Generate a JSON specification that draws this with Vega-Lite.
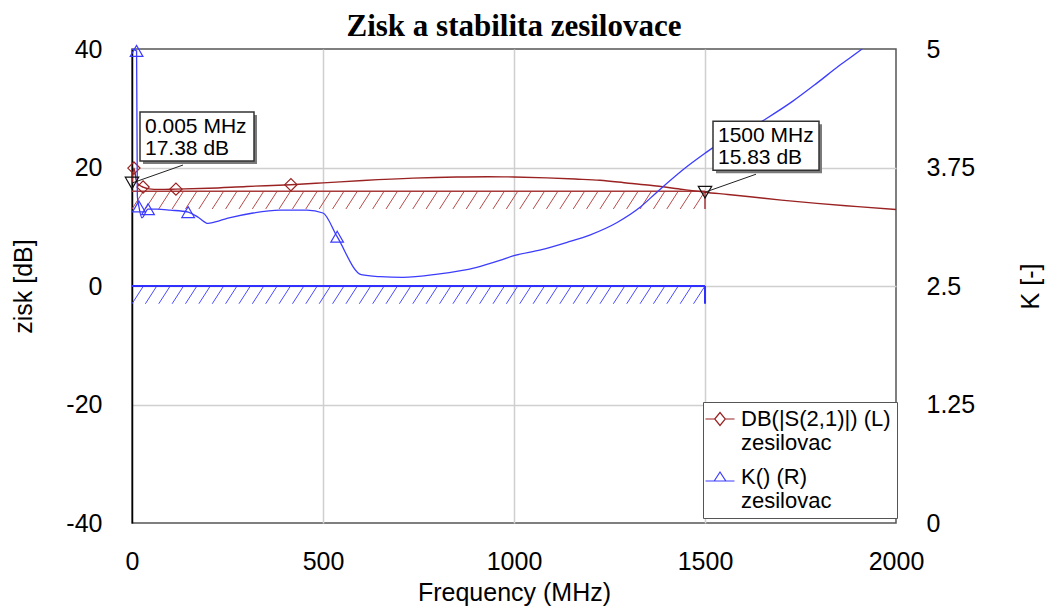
{
  "$schema": "https://vega.github.io/schema/vega-lite/v6.json",
  "width": 764,
  "height": 474,
  "autosize": {"type": "none"},
  "padding": {"left": 132, "top": 49, "right": 154, "bottom": 85},
  "background": "white",
  "config": {
    "font": "Liberation Sans",
    "view": {"stroke": "#555555", "strokeWidth": 1.5},
    "axis": {
      "labelFont": "Liberation Sans",
      "labelFontSize": 25,
      "labelColor": "black",
      "titleFont": "Liberation Sans",
      "titleFontSize": 25,
      "titleFontWeight": "normal",
      "titleColor": "black",
      "ticks": false,
      "domain": false,
      "gridColor": "#cfcfcf",
      "gridWidth": 1.5
    }
  },
  "title": {
    "text": "Zisk a stabilita zesilovace",
    "font": "Liberation Serif",
    "fontSize": 31,
    "fontWeight": "bold",
    "color": "black",
    "anchor": "middle",
    "frame": "group",
    "offset": 6,
    "dy": 12
  },
  "datasets": {
    "s21": [
      {"f": 0.005, "db": 17.38},
      {"f": 5, "db": 19.9},
      {"f": 12, "db": 17.6},
      {"f": 20, "db": 17.0},
      {"f": 29, "db": 16.7},
      {"f": 45, "db": 16.4},
      {"f": 70, "db": 16.3},
      {"f": 115, "db": 16.35},
      {"f": 200, "db": 16.5},
      {"f": 300, "db": 16.8},
      {"f": 416, "db": 17.1},
      {"f": 500, "db": 17.4},
      {"f": 605, "db": 17.8},
      {"f": 736, "db": 18.2},
      {"f": 850, "db": 18.4},
      {"f": 930, "db": 18.45},
      {"f": 1000, "db": 18.4},
      {"f": 1086, "db": 18.25},
      {"f": 1160, "db": 18.05},
      {"f": 1225, "db": 17.85},
      {"f": 1300, "db": 17.35},
      {"f": 1356, "db": 17.0},
      {"f": 1442, "db": 16.3},
      {"f": 1500, "db": 15.83},
      {"f": 1560, "db": 15.45},
      {"f": 1618, "db": 15.07},
      {"f": 1700, "db": 14.5},
      {"f": 1793, "db": 13.95},
      {"f": 1900, "db": 13.4},
      {"f": 2000, "db": 12.9}
    ],
    "kf": [
      {"f": 0.005, "k": 5.0},
      {"f": 12, "k": 4.98},
      {"f": 14, "k": 3.45},
      {"f": 18, "k": 3.34},
      {"f": 26, "k": 3.22},
      {"f": 42, "k": 3.31},
      {"f": 65, "k": 3.31},
      {"f": 100, "k": 3.3},
      {"f": 147, "k": 3.28},
      {"f": 175, "k": 3.22},
      {"f": 199, "k": 3.16},
      {"f": 230, "k": 3.19},
      {"f": 257, "k": 3.22},
      {"f": 317, "k": 3.27},
      {"f": 387, "k": 3.3},
      {"f": 458, "k": 3.3},
      {"f": 500, "k": 3.27},
      {"f": 537, "k": 3.02},
      {"f": 600, "k": 2.62},
      {"f": 650, "k": 2.598},
      {"f": 709, "k": 2.59},
      {"f": 800, "k": 2.625},
      {"f": 900, "k": 2.695},
      {"f": 963, "k": 2.77},
      {"f": 1000, "k": 2.82},
      {"f": 1070, "k": 2.88},
      {"f": 1139, "k": 2.96},
      {"f": 1200, "k": 3.04},
      {"f": 1270, "k": 3.17},
      {"f": 1330, "k": 3.33},
      {"f": 1374, "k": 3.49},
      {"f": 1453, "k": 3.76},
      {"f": 1500, "k": 3.9},
      {"f": 1521, "k": 3.96},
      {"f": 1600, "k": 4.12},
      {"f": 1662, "k": 4.27},
      {"f": 1730, "k": 4.45},
      {"f": 1793, "k": 4.64},
      {"f": 1850, "k": 4.82},
      {"f": 1911, "k": 5.0},
      {"f": 2000, "k": 5.3}
    ],
    "goals": [
      {"series": "S21", "f0": 0, "f1": 1500, "level": 16, "low": 13},
      {"series": "K", "f0": 0, "f1": 1500, "level": 0, "low": -3}
    ],
    "hatch": [
      {"f0": 0, "f1": 30}, {"f0": 35, "f1": 65}, {"f0": 70, "f1": 100}, {"f0": 105, "f1": 135},
      {"f0": 140, "f1": 170}, {"f0": 175, "f1": 205}, {"f0": 210, "f1": 240}, {"f0": 245, "f1": 275},
      {"f0": 280, "f1": 310}, {"f0": 315, "f1": 345}, {"f0": 350, "f1": 380}, {"f0": 385, "f1": 415},
      {"f0": 420, "f1": 450}, {"f0": 455, "f1": 485}, {"f0": 490, "f1": 520}, {"f0": 525, "f1": 555},
      {"f0": 560, "f1": 590}, {"f0": 595, "f1": 625}, {"f0": 630, "f1": 660}, {"f0": 665, "f1": 695},
      {"f0": 700, "f1": 730}, {"f0": 735, "f1": 765}, {"f0": 770, "f1": 800}, {"f0": 805, "f1": 835},
      {"f0": 840, "f1": 870}, {"f0": 875, "f1": 905}, {"f0": 910, "f1": 940}, {"f0": 945, "f1": 975},
      {"f0": 980, "f1": 1010}, {"f0": 1015, "f1": 1045}, {"f0": 1050, "f1": 1080}, {"f0": 1085, "f1": 1115},
      {"f0": 1120, "f1": 1150}, {"f0": 1155, "f1": 1185}, {"f0": 1190, "f1": 1220}, {"f0": 1225, "f1": 1255},
      {"f0": 1260, "f1": 1290}, {"f0": 1295, "f1": 1325}, {"f0": 1330, "f1": 1360}, {"f0": 1365, "f1": 1395},
      {"f0": 1400, "f1": 1430}, {"f0": 1435, "f1": 1465}, {"f0": 1470, "f1": 1500}
    ],
    "readouts": [
      {"f": 0.005, "db": 17.38},
      {"f": 1500, "db": 15.83}
    ]
  },
  "resolve": {"scale": {"y": "independent"}},
  "layer": [
    {
      "layer": [
        {
          "data": {"name": "hatch"},
          "mark": {"type": "rule", "color": "#b84a4a", "strokeWidth": 1},
          "encoding": {
            "x": {
              "field": "f0", "type": "quantitative", "title": "Frequency (MHz)",
              "scale": {"domain": [0, 2000], "nice": false, "zero": false},
              "axis": {
                "values": [0, 500, 1000, 1500, 2000],
                "labelExpr": "'' + datum.value",
                "labelPadding": 26,
                "labelFlush": false,
                "grid": true,
                "gridColor": {"condition": {"test": "datum.value == 0 || datum.value == 2000", "value": "transparent"}, "value": "#cfcfcf"},
                "titleY": 77,
                "titleBaseline": "alphabetic"
              }
            },
            "x2": {"field": "f1"},
            "y": {
              "datum": 13, "type": "quantitative", "title": "zisk [dB]",
              "scale": {"domain": [-40, 40], "nice": false, "zero": false},
              "axis": {
                "orient": "left",
                "values": [-40, -20, 0, 20, 40],
                "labelExpr": "'' + datum.value",
                "labelPadding": 30,
                "labelFlush": false,
                "grid": true,
                "gridColor": {"condition": {"test": "datum.value == 40 || datum.value == -40", "value": "transparent"}, "value": "#cfcfcf"},
                "domain": true,
                "domainColor": "black",
                "domainWidth": 1.5,
                "titleAngle": -90,
                "titleX": -109,
                "titleY": 237,
                "titleAlign": "center",
                "titleBaseline": "middle"
              }
            },
            "y2": {"datum": 16}
          }
        },
        {
          "data": {"name": "hatch"},
          "mark": {"type": "rule", "color": "#4a4aff", "strokeWidth": 1},
          "encoding": {
            "x": {"field": "f0", "type": "quantitative", "title": "Frequency (MHz)"},
            "x2": {"field": "f1"},
            "y": {"datum": -3, "type": "quantitative", "title": "zisk [dB]"},
            "y2": {"datum": 0}
          }
        },
        {
          "data": {"name": "goals"},
          "mark": {"type": "rule"},
          "encoding": {
            "x": {"field": "f0", "type": "quantitative", "title": "Frequency (MHz)"},
            "x2": {"field": "f1"},
            "y": {"field": "level", "type": "quantitative", "title": "zisk [dB]"},
            "color": {"condition": {"test": "datum.series == 'S21'", "value": "#a83a3a"}, "value": "#2f2fff"},
            "strokeWidth": {"condition": {"test": "datum.series == 'S21'", "value": 1.5}, "value": 2}
          }
        },
        {
          "data": {"name": "goals"},
          "mark": {"type": "rule"},
          "encoding": {
            "x": {"field": "f1", "type": "quantitative", "title": "Frequency (MHz)"},
            "y": {"field": "low", "type": "quantitative", "title": "zisk [dB]"},
            "y2": {"field": "level"},
            "color": {"condition": {"test": "datum.series == 'S21'", "value": "#a83a3a"}, "value": "#2f2fff"},
            "strokeWidth": {"condition": {"test": "datum.series == 'S21'", "value": 1.5}, "value": 2}
          }
        },
        {
          "data": {"name": "s21"},
          "mark": {"type": "line", "strokeWidth": 1.4, "clip": true, "interpolate": "monotone"},
          "encoding": {
            "x": {"field": "f", "type": "quantitative", "title": "Frequency (MHz)"},
            "y": {"field": "db", "type": "quantitative", "title": "zisk [dB]"},
            "color": {
              "datum": "S21",
              "type": "nominal",
              "scale": {"domain": ["S21", "K"], "range": ["#9a2222", "#3c3cff"]},
              "legend": {
                "orient": "none",
                "legendX": 571,
                "legendY": 353,
                "direction": "vertical",
                "title": null,
                "padding": 6,
                "rowPadding": 12,
                "strokeColor": "#555555",
                "fillColor": "white",
                "symbolSize": 400,
                "symbolStrokeWidth": 1.2,
                "symbolFillColor": "transparent",
                "labelFont": "Liberation Sans",
                "labelFontSize": 22,
                "labelColor": "black",
                "labelBaseline": "middle",
                "labelOffset": 10,
                "labelLimit": 300,
                "labelExpr": "datum.label == 'S21' ? ['DB(|S(2,1)|) (L)', 'zesilovac'] : ['K() (R)', 'zesilovac']",
                "encode": {
                  "symbols": {
                    "update": {
                      "shape": {"signal": "datum.value == 'S21' ? 'M-1.45,0H-0.53M0.53,0H1.45M-0.53,0L0,-0.65L0.53,0L0,0.65Z' : 'M-1.45,0.4H1.45M-0.58,0.4L0,-0.5L0.58,0.4Z'"},
                      "strokeDash": {"value": []}
                    }
                  }
                }
              }
            }
          }
        },
        {
          "data": {"name": "s21"},
          "transform": [{"filter": {"field": "f", "oneOf": [5, 29, 115, 416]}}],
          "mark": {"type": "point", "shape": "diamond", "filled": false, "size": 150, "strokeWidth": 1.2, "color": "#9a2222", "opacity": 1},
          "encoding": {
            "x": {"field": "f", "type": "quantitative", "title": "Frequency (MHz)"},
            "y": {"field": "db", "type": "quantitative", "title": "zisk [dB]"}
          }
        }
      ]
    },
    {
      "layer": [
        {
          "data": {"name": "kf"},
          "mark": {"type": "line", "strokeWidth": 1.3, "clip": true, "interpolate": "monotone"},
          "encoding": {
            "x": {"field": "f", "type": "quantitative", "title": "Frequency (MHz)"},
            "y": {
              "field": "k", "type": "quantitative", "title": "K [-]",
              "scale": {"domain": [0, 5], "nice": false, "zero": false},
              "axis": {
                "orient": "right",
                "values": [0, 1.25, 2.5, 3.75, 5],
                "labelExpr": "'' + datum.value",
                "labelPadding": 30,
                "labelFlush": false,
                "grid": false,
                "titleAngle": -90,
                "titleX": 134,
                "titleY": 237,
                "titleAlign": "center",
                "titleBaseline": "middle"
              }
            },
            "color": {"datum": "K", "type": "nominal"}
          }
        },
        {
          "data": {"name": "kf"},
          "transform": [{"filter": {"field": "f", "oneOf": [12, 18, 42, 147, 537]}}],
          "mark": {"type": "point", "shape": "triangle-up", "filled": false, "size": 160, "strokeWidth": 1.2, "color": "#3c3cff", "opacity": 1},
          "encoding": {
            "x": {"field": "f", "type": "quantitative", "title": "Frequency (MHz)"},
            "y": {"field": "k", "type": "quantitative", "title": "K [-]"}
          }
        }
      ]
    },
    {
      "data": {"name": "readouts"},
      "transform": [
        {"calculate": "[datum.f + ' MHz', format(datum.db, '.2f') + ' dB']", "as": "label"}
      ],
      "encoding": {
        "x": {"field": "f", "type": "quantitative", "title": "Frequency (MHz)"},
        "y": {
          "field": "db", "type": "quantitative", "axis": null,
          "scale": {"domain": [-40, 40], "nice": false, "zero": false}
        }
      },
      "layer": [
        {
          "mark": {"type": "rule", "color": "#222222", "strokeWidth": 1, "x2Offset": 51, "y2Offset": -18},
          "encoding": {"x2": {"field": "f"}, "y2": {"field": "db"}}
        },
        {
          "transform": [{"filter": "datum.f < 1"}],
          "mark": {"type": "rect", "fill": "#7a7a7a", "xOffset": 11, "x2Offset": 125, "yOffset": -68, "y2Offset": -19},
          "encoding": {"x2": {"field": "f"}, "y2": {"field": "db"}}
        },
        {
          "transform": [{"filter": "datum.f < 1"}],
          "mark": {"type": "rect", "fill": "white", "stroke": "#333333", "strokeWidth": 1.5, "xOffset": 8, "x2Offset": 122, "yOffset": -71, "y2Offset": -22},
          "encoding": {"x2": {"field": "f"}, "y2": {"field": "db"}}
        },
        {
          "transform": [{"filter": "datum.f > 1"}],
          "mark": {"type": "rect", "fill": "#7a7a7a", "xOffset": 11, "x2Offset": 117, "yOffset": -68, "y2Offset": -19},
          "encoding": {"x2": {"field": "f"}, "y2": {"field": "db"}}
        },
        {
          "transform": [{"filter": "datum.f > 1"}],
          "mark": {"type": "rect", "fill": "white", "stroke": "#333333", "strokeWidth": 1.5, "xOffset": 8, "x2Offset": 114, "yOffset": -71, "y2Offset": -22},
          "encoding": {"x2": {"field": "f"}, "y2": {"field": "db"}}
        },
        {
          "mark": {"type": "text", "align": "left", "baseline": "top", "dx": 13, "dy": -67, "font": "Liberation Sans", "fontSize": 21, "lineHeight": 21.5, "color": "black"},
          "encoding": {"text": {"field": "label"}}
        },
        {
          "mark": {"type": "point", "shape": "triangle-down", "filled": false, "size": 180, "strokeWidth": 1.2, "color": "#111111", "opacity": 1}
        }
      ]
    }
  ]
}
